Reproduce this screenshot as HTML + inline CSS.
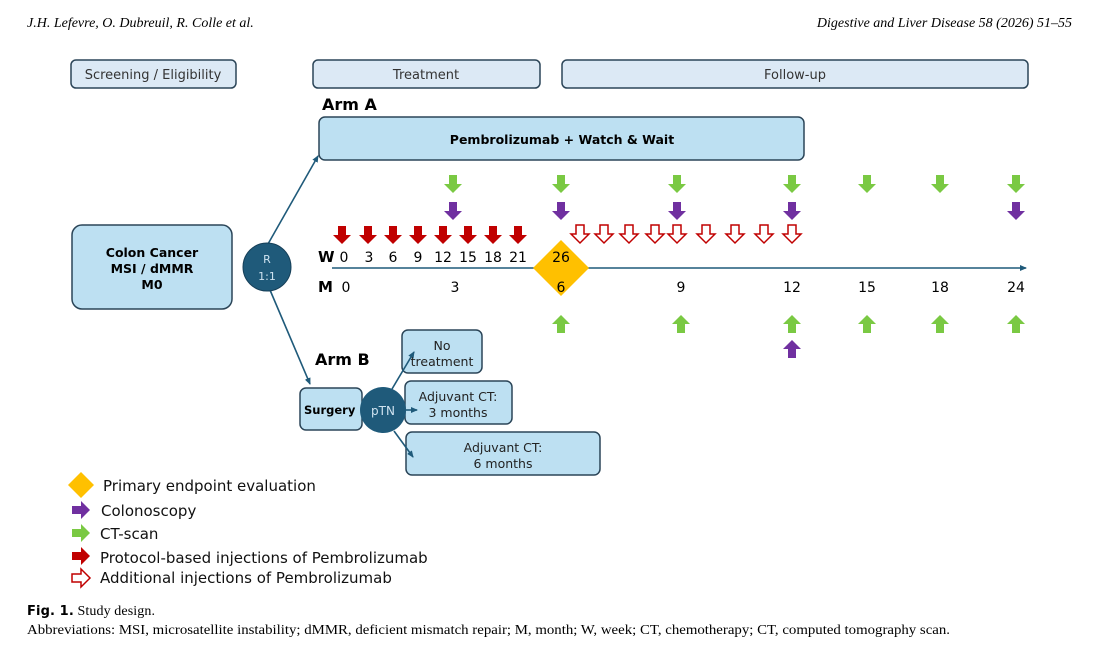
<!DOCTYPE html>
<html><head><meta charset="utf-8"><style>
body{margin:0;background:#fff;width:1100px;height:653px;overflow:hidden}
svg{display:block}
.s{font-family:"DejaVu Sans","Liberation Sans",sans-serif}
.r{font-family:"Liberation Serif",serif}
</style></head><body>
<svg width="1100" height="653" viewBox="0 0 1100 653" xmlns="http://www.w3.org/2000/svg">
<defs>
<path id="da" d="M-4,-9 H4 V0 H9 L0,9 L-9,0 H-4 Z"/>
<marker id="ah" markerWidth="8" markerHeight="8" refX="6" refY="3" orient="auto" markerUnits="userSpaceOnUse"><path d="M0,0 L7,3 L0,6 Z" fill="#1f5a7a"/></marker>
</defs>
<text x="27" y="27" class="r" font-style="italic" font-size="14">J.H. Lefevre, O. Dubreuil, R. Colle et al.</text>
<text x="1072" y="27" class="r" font-style="italic" font-size="14" text-anchor="end">Digestive and Liver Disease 58 (2026) 51–55</text>

<g fill="#dce9f5" stroke="#2b4558" stroke-width="1.5">
<rect x="71" y="60" width="165" height="28" rx="5"/>
<rect x="313" y="60" width="227" height="28" rx="5"/>
<rect x="562" y="60" width="466" height="28" rx="5"/>
</g>
<g class="s" font-size="13" fill="#333" text-anchor="middle">
<text x="153" y="79">Screening / Eligibility</text>
<text x="426" y="79">Treatment</text>
<text x="795" y="79">Follow-up</text>
</g>
<text x="322" y="110" class="s" font-size="16" font-weight="bold">Arm A</text>
<rect x="319" y="117" width="485" height="43" rx="6" fill="#bde0f2" stroke="#2b4558" stroke-width="1.5"/>
<text x="562" y="144" class="s" font-size="12.5" font-weight="bold" text-anchor="middle">Pembrolizumab + Watch &amp; Wait</text>

<rect x="72" y="225" width="160" height="84" rx="10" fill="#bde0f2" stroke="#2b4558" stroke-width="1.5"/>
<g class="s" font-size="12.5" font-weight="bold" text-anchor="middle"><text x="152" y="257">Colon Cancer</text><text x="152" y="273">MSI / dMMR</text><text x="152" y="289">M0</text></g>

<g fill="#bde0f2" stroke="#2b4558" stroke-width="1.5">
<rect x="300" y="388" width="62" height="42" rx="6"/>
<rect x="402" y="330" width="80" height="43" rx="6"/>
<rect x="405" y="381" width="107" height="43" rx="6"/>
<rect x="406" y="432" width="194" height="43" rx="6"/>
</g>
<circle cx="383" cy="410" r="23" fill="#1f5a7a"/>
<g stroke="#1f5a7a" stroke-width="1.6" fill="none" marker-end="url(#ah)">
<line x1="268" y1="244" x2="318" y2="156"/>
<line x1="270" y1="290" x2="310" y2="384"/>
<line x1="332" y1="268" x2="1026" y2="268"/>
<line x1="392" y1="389" x2="414" y2="352"/>
<line x1="406" y1="410" x2="417" y2="410"/>
<line x1="394" y1="431" x2="413" y2="457"/>
</g>
<circle cx="267" cy="267" r="24" fill="#1f5a7a" stroke="#163f58" stroke-width="1"/>
<g class="s" font-size="11" fill="#cfe3f0" text-anchor="middle"><text x="267" y="263">R</text><text x="267" y="280">1:1</text></g>

<polygon points="561,240 589,268 561,296 533,268" fill="#ffc000"/>
<text x="318" y="262" class="s" font-size="15" font-weight="bold">W</text>
<text x="318" y="292" class="s" font-size="15" font-weight="bold">M</text>
<g class="s" font-size="14" text-anchor="middle">
<text x="344" y="262">0</text><text x="369" y="262">3</text><text x="393" y="262">6</text><text x="418" y="262">9</text><text x="443" y="262">12</text><text x="468" y="262">15</text><text x="493" y="262">18</text><text x="518" y="262">21</text><text x="561" y="262">26</text>
<text x="346" y="292">0</text><text x="455" y="292">3</text><text x="561" y="292">6</text><text x="681" y="292">9</text><text x="792" y="292">12</text><text x="867" y="292">15</text><text x="940" y="292">18</text><text x="1016" y="292">24</text>
</g>

<g fill="#c00000">
<use href="#da" x="342" y="235"/><use href="#da" x="368" y="235"/><use href="#da" x="393" y="235"/><use href="#da" x="418" y="235"/><use href="#da" x="443" y="235"/><use href="#da" x="468" y="235"/><use href="#da" x="493" y="235"/><use href="#da" x="518" y="235"/>
</g>
<g fill="#fff" stroke="#c00000" stroke-width="1.5">
<use href="#da" x="580" y="234"/><use href="#da" x="604" y="234"/><use href="#da" x="629" y="234"/><use href="#da" x="655" y="234"/><use href="#da" x="677" y="234"/><use href="#da" x="706" y="234"/><use href="#da" x="735" y="234"/><use href="#da" x="764" y="234"/><use href="#da" x="792" y="234"/>
</g>
<g fill="#7ac943">
<use href="#da" x="453" y="184"/><use href="#da" x="561" y="184"/><use href="#da" x="677" y="184"/><use href="#da" x="792" y="184"/><use href="#da" x="867" y="184"/><use href="#da" x="940" y="184"/><use href="#da" x="1016" y="184"/>
</g>
<g fill="#7030a0">
<use href="#da" x="453" y="211"/><use href="#da" x="561" y="211"/><use href="#da" x="677" y="211"/><use href="#da" x="792" y="211"/><use href="#da" x="1016" y="211"/>
</g>
<g fill="#7ac943">
<use href="#da" transform="translate(561,324) rotate(180)"/><use href="#da" transform="translate(681,324) rotate(180)"/><use href="#da" transform="translate(792,324) rotate(180)"/><use href="#da" transform="translate(867,324) rotate(180)"/><use href="#da" transform="translate(940,324) rotate(180)"/><use href="#da" transform="translate(1016,324) rotate(180)"/>
</g>
<use href="#da" fill="#7030a0" transform="translate(792,349) rotate(180)"/>

<text x="315" y="365" class="s" font-size="16" font-weight="bold">Arm B</text>
<text x="304" y="414" class="s" font-size="11.5" font-weight="bold">Surgery</text>
<text x="383" y="415" class="s" font-size="12" fill="#cfe3f0" text-anchor="middle">pTN</text>
<g class="s" font-size="12.5" text-anchor="middle" fill="#222">
<text x="442" y="350">No</text><text x="442" y="366">treatment</text>
<text x="458" y="401">Adjuvant CT:</text><text x="458" y="417">3 months</text>
<text x="503" y="452">Adjuvant CT:</text><text x="503" y="468">6 months</text>
</g>

<polygon points="81,472 94,485 81,498 68,485" fill="#ffc000"/>
<g transform="translate(81,510) rotate(-90)" fill="#7030a0"><use href="#da"/></g>
<g transform="translate(81,533) rotate(-90)" fill="#7ac943"><use href="#da"/></g>
<g transform="translate(81,556) rotate(-90)" fill="#c00000"><use href="#da"/></g>
<g transform="translate(81,578) rotate(-90)" fill="#fff" stroke="#c00000" stroke-width="1.5"><use href="#da"/></g>
<g class="s" font-size="15" fill="#111">
<text x="103" y="491">Primary endpoint evaluation</text>
<text x="101" y="516">Colonoscopy</text>
<text x="100" y="539">CT-scan</text>
<text x="100" y="563">Protocol-based  injections of Pembrolizumab</text>
<text x="100" y="583">Additional injections of Pembrolizumab</text>
</g>
<text x="27" y="615" class="r" font-size="14" textLength="128"><tspan font-weight="bold" class="s" font-size="13">Fig. 1.</tspan>  Study design.</text>
<text x="27" y="634" class="r" font-size="14" textLength="923" lengthAdjust="spacingAndGlyphs">Abbreviations: MSI, microsatellite instability; dMMR, deficient mismatch repair; M, month; W, week; CT, chemotherapy; CT, computed tomography scan.</text>
</svg>
</body></html>
